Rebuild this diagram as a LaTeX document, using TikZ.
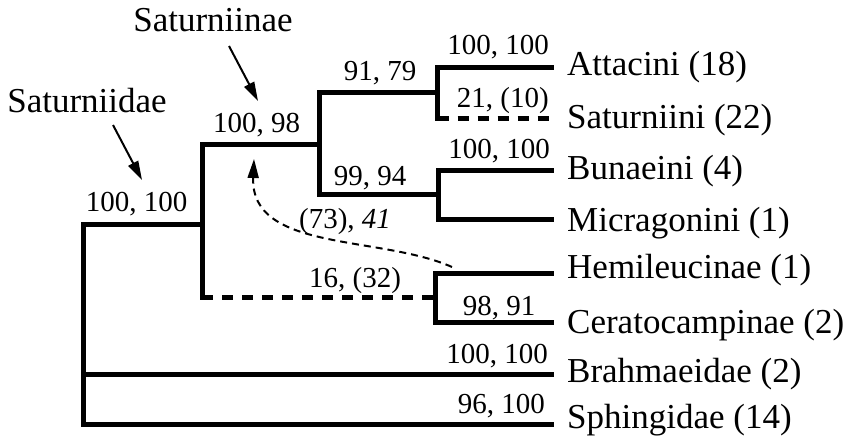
\documentclass[tikz,border=0pt]{standalone}
\usepackage{fontspec}
\setmainfont{Liberation Serif}
\usetikzlibrary{arrows.meta}

\tikzset{
  branch/.style={line width=5pt, line cap=rect},
  weak/.style={line width=5pt, dash pattern=on 11pt off 9pt},
  pointer/.style={line width=2pt, -{Triangle[length=19pt,width=11pt]}},
  taxon/.style={anchor=base west, inner sep=0pt, font=\fontsize{35}{40}\selectfont},
  clade/.style={anchor=base, inner sep=0pt, font=\fontsize{35}{40}\selectfont},
  support/.style={anchor=base, inner sep=0pt, font=\fontsize{29}{34}\selectfont},
  tipsupport/.style={support, anchor=base east},
}

\begin{document}
\begin{tikzpicture}[x=1pt, y=-1pt]
  \useasboundingbox (0,0) rectangle (848,444);

  %% -- tips and internal nodes ------------------------------
  \coordinate (tAtt) at (551.5,67.5);
  \coordinate (tSat) at (554,118.5);
  \coordinate (tBun) at (551.5,170.5);
  \coordinate (tMic) at (551.5,219.5);
  \coordinate (tHem) at (551.5,273);
  \coordinate (tCer) at (551.5,322);
  \coordinate (tBra) at (551.5,374.5);
  \coordinate (tSph) at (551.5,424.5);

  \coordinate (nAtt)  at (437.5,92.5);
  \coordinate (nBun)  at (438,194.5);
  \coordinate (nHem)  at (435.5,297.5);
  \coordinate (nSatn) at (319,144.5);
  \coordinate (nSatd) at (202,224);
  \coordinate (nRoot) at (83,374.5);

  %% -- branches ---------------------------------------------
  \draw[branch] (tAtt) -| (nAtt) -- (nAtt |- tSat);
  \draw[weak]   (nAtt |- tSat) -- (tSat);
  \draw[branch] (tBun) -| (nBun) |- (tMic);
  \draw[branch] (tHem) -| (nHem) |- (tCer);
  \draw[branch] (nAtt) -| (nSatn) |- (nBun);
  \draw[branch] (nSatn) -| (nSatd) -- (nSatd |- nHem);
  \draw[weak]   (nSatd |- nHem) -- (nHem);
  \draw[branch] (nSatd) -| (nRoot) |- (tSph);
  \draw[branch] (nRoot) -- (tBra);

  %% -- taxa -------------------------------------------------
  \node[taxon] (lAtt) at (567,75)  {Attacini (18)};
  \node[taxon] (lSat) at (567,128) {Saturniini (22)};
  \node[taxon] (lBun) at (567,179) {Bunaeini (4)};
  \node[taxon] (lMic) at (567,231) {Micragonini (1)};
  \node[taxon] (lHem) at (567,278) {Hemileucinae (1)};
  \node[taxon] (lCer) at (567,333) {Ceratocampinae (2)};
  \node[taxon] (lBra) at (567,382) {Brahmaeidae (2)};
  \node[taxon] (lSph) at (567,428) {Sphingidae (14)};

  %% -- support values ---------------------------------------
  \node[tipsupport] (sAtt) at (549,55)  {100, 100};
  \node[tipsupport] (sSat) at (549,107) {21, (10)};
  \node[tipsupport] (sBun) at (550,158) {100, 100};
  \node[tipsupport] (sBra) at (548,363) {100, 100};
  \node[tipsupport] (sSph) at (545,413) {96, 100};
  \node[support] (sCer)  at (499,315)   {98, 91};
  \node[support] (sAS)   at (380,80)    {91, 79};
  \node[support] (sBM)   at (370,185)   {99, 94};
  \node[support] (sSatn) at (256.5,132) {100, 98};
  \node[support] (sSatd) at (136.5,211) {100, 100};
  \node[support] (sHC)   at (355,287)   {16, (32)};
  \node[support] (sAlt)  at (345,228)   {(73), \textit{41}};

  %% -- clade names and pointers -----------------------------
  \node[clade] (cSatd) at (87,112) {Saturniidae};
  \node[clade] (cSatn) at (213,32) {Saturniinae};

  \coordinate (pSatdA) at (113,125);
  \coordinate (pSatdB) at (142,180);
  \coordinate (pSatnA) at (229,46);
  \coordinate (pSatnB) at (258,101);
  \draw[pointer] (pSatdA) -- (pSatdB);
  \draw[pointer] (pSatnA) -- (pSatnB);

  % alternative placement of the hemileucine lineage
  \coordinate (pAltA) at (452,267);
  \coordinate (pAltB) at (254,159);
  \draw[pointer, dash pattern=on 7pt off 5pt]
    (pAltA) .. controls (380,235) and (250,252) .. (pAltB);

\end{tikzpicture}
\end{document}
